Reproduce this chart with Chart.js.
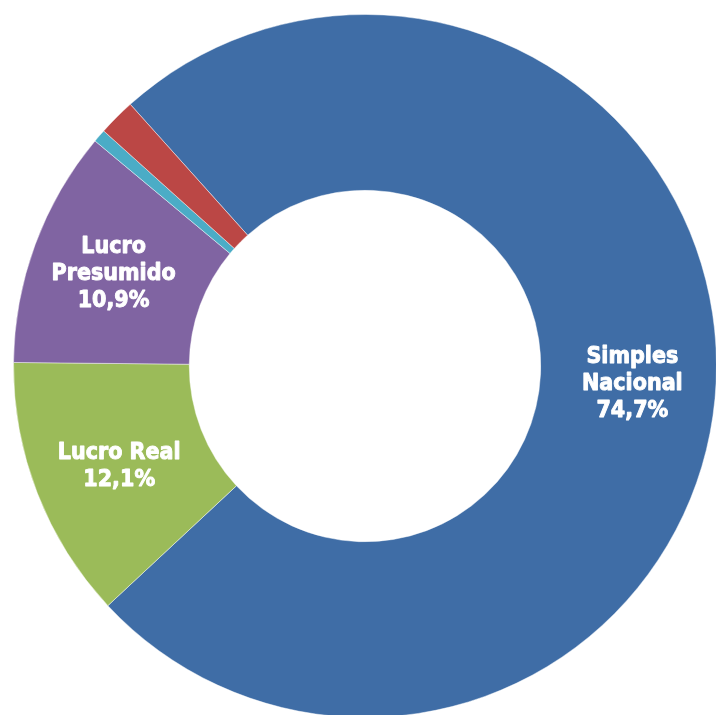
<!DOCTYPE html>
<html>
<head>
<meta charset="utf-8">
<script src="https://cdn.jsdelivr.net/npm/chart.js@4"></script>
<style>
  html, body { margin: 0; padding: 0; background: #ffffff; overflow: hidden; width: 716px; height: 715px; }
  #wrap { position: absolute; left: 13px; top: 14px; width: 704px; height: 704px; }
</style>
</head>
<body>
<div id="wrap"><canvas id="c" width="704" height="704"></canvas></div>
<script>
// ---- data ----
const categories = ['Simples Nacional', 'Lucro Real', 'Lucro Presumido', 'Outros', 'Outros 2'];
const values = [74.7, 12.1, 10.9, 0.6, 1.7];
const labelLines = [
  ['Simples', 'Nacional', '74,7%'],
  ['Lucro Real', '12,1%'],
  ['Lucro', 'Presumido', '10,9%'],
  [],
  []
];
const colors = ['#3F6DA6', '#9BBB59', '#8064A2', '#4BACC6', '#BB4745'];
const labelOffsets = [[4, 6], [0, 5], [-4, -1], [0, 0], [0, 0]];

const labelPlugin = {
  id: 'sliceLabels',
  afterDatasetsDraw(chart) {
    const ctx = chart.ctx;
    const meta = chart.getDatasetMeta(0);
    ctx.save();
    ctx.fillStyle = '#ffffff';
    ctx.strokeStyle = '#ffffff';
    ctx.lineWidth = 0.9;
    ctx.lineJoin = 'round';
    ctx.font = 'bold 23px "DejaVu Sans Condensed", "DejaVu Sans", sans-serif';
    ctx.textAlign = 'center';
    ctx.textBaseline = 'middle';
    const lh = 27;
    meta.data.forEach((arc, i) => {
      const lines = labelLines[i];
      if (!lines || !lines.length) return;
      const p = arc.tooltipPosition();
      const x = p.x + labelOffsets[i][0];
      const y0 = p.y + labelOffsets[i][1] - (lines.length - 1) * lh / 2;
      lines.forEach((t, k) => {
        ctx.fillText(t, x, y0 + k * lh);
        ctx.strokeText(t, x, y0 + k * lh);
      });
    });
    ctx.restore();
  }
};

new Chart(document.getElementById('c'), {
  type: 'doughnut',
  data: {
    labels: categories,
    datasets: [{
      data: values,
      backgroundColor: colors,
      borderColor: 'rgba(255,255,255,0.45)',
      borderWidth: 1,
      hoverOffset: 0
    }]
  },
  options: {
    responsive: false,
    devicePixelRatio: 1,
    animation: false,
    rotation: 318.1,
    cutout: '50%',
    layout: { padding: 0 },
    plugins: { legend: { display: false }, tooltip: { enabled: false } }
  },
  plugins: [labelPlugin]
});
</script>
</body>
</html>
